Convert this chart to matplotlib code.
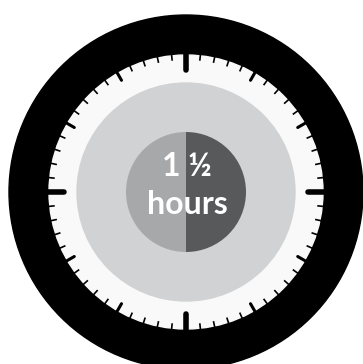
import matplotlib.pyplot as plt
import numpy as np

plt.rcParams['font.family'] = ['Lato', 'DejaVu Sans']

# inner dial: two halves of the 1 1/2 hour clock
halves = [50, 50]
half_colors = ['#a7a8aa', '#58595b']
line1 = '1 \u00bd'
line2 = 'hours'

# tick marks round the dial: 60 minutes, medium every 5, long every 15
n_ticks = 60
medium_every = 5
major_every = 15

cx, cy = 186, 192

fig = plt.figure(figsize=(3.63, 3.64), dpi=100)
ax = fig.add_axes([0, 0, 1, 1])

# rings
ax.add_patch(plt.Circle((cx, cy), 177, color='black', zorder=1))
ax.add_patch(plt.Circle((cx, cy), 137, color='#f9f9f9', zorder=2))
ax.add_patch(plt.Circle((cx, cy), 109, color='#d1d2d3', zorder=3))

# ticks
r_out = 139
for i in range(n_ticks):
    a = np.deg2rad(90 - i * 360 / n_ticks)
    if i % major_every == 0:
        length, lw, cap = 15, 4.0, 'round'
    elif i % medium_every == 0:
        length, lw, cap = 8, 2.2, 'round'
    else:
        length, lw, cap = 5, 1.2, 'butt'
    r_in = r_out - 2 - length
    ax.plot([cx + r_out * np.cos(a), cx + r_in * np.cos(a)],
            [cy - r_out * np.sin(a), cy - r_in * np.sin(a)],
            color='black', lw=lw, solid_capstyle=cap, zorder=4)

# inner half/half disc
wedges, _ = ax.pie(halves, colors=half_colors, startangle=90, counterclock=True,
                   center=(cx, cy), radius=60, frame=True,
                   wedgeprops=dict(linewidth=0))
for w in wedges:
    w.set_zorder(5)

ax.text(cx + 1, cy - 25, line1, color='white', fontsize=23, fontweight='bold',
        ha='center', va='center', zorder=6)
ax.text(cx + 1, cy + 13, line2, color='white', fontsize=23, fontweight='bold',
        ha='center', va='center', zorder=6)

ax.set_xlim(0, 363)
ax.set_ylim(364, 0)
ax.set_aspect('equal')
ax.axis('off')

fig.savefig('out.png', dpi=100)
